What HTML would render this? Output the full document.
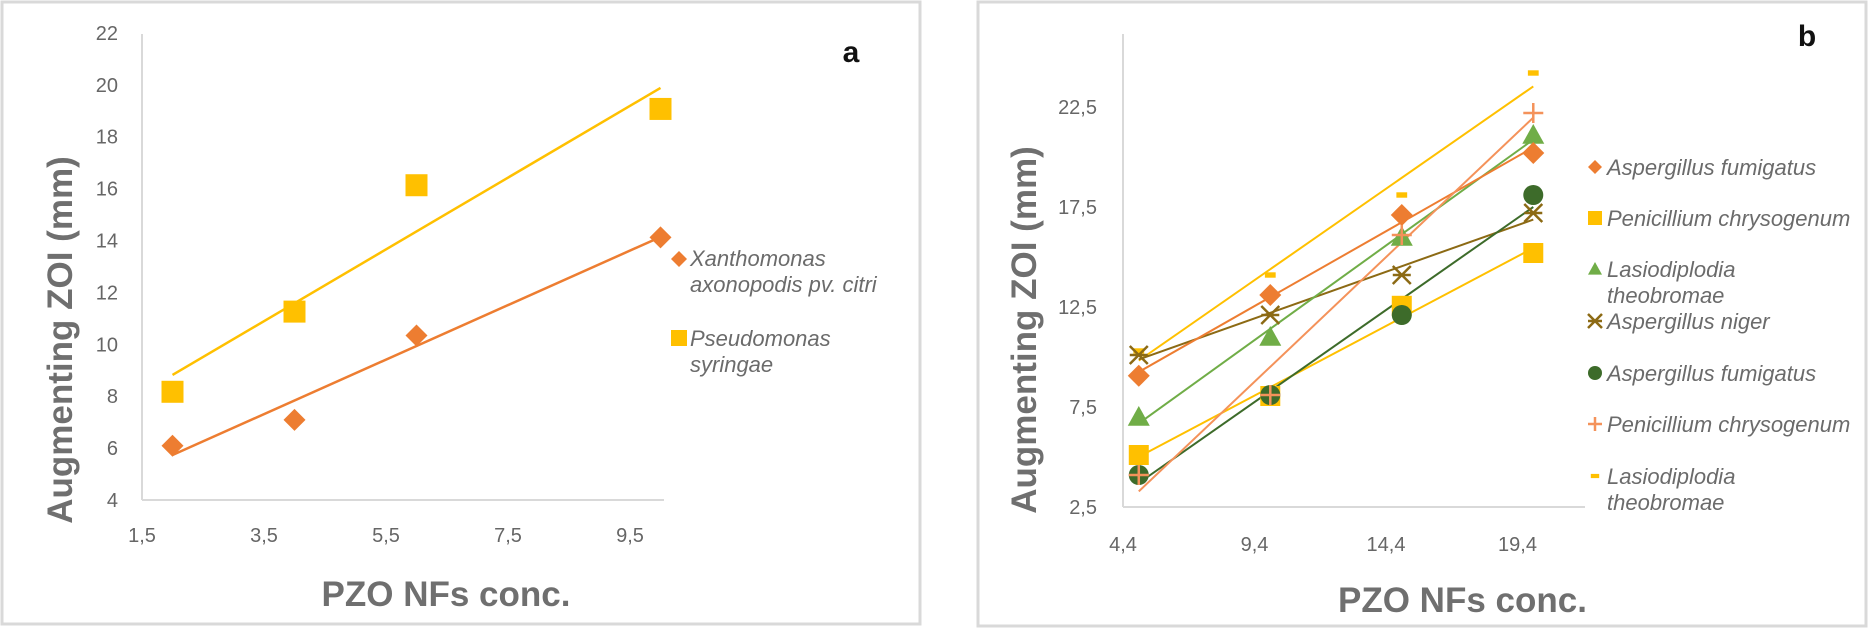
<!DOCTYPE html>
<html><head><meta charset="utf-8"><style>
html,body{margin:0;padding:0;background:#fff;}
svg{display:block;font-family:"Liberation Sans",sans-serif;}
.tick{fill:#666;font-size:20px;}
.leg{fill:#6b6b6b;font-size:22px;font-style:italic;}
.title{fill:#6f6f6f;font-size:35px;font-weight:bold;}
</style></head><body>
<svg id="svg" width="1870" height="629" viewBox="0 0 1870 629">
<rect x="2" y="2" width="918" height="622" fill="#fff" stroke="#d9d9d9" stroke-width="3"/>
<rect x="978" y="2" width="888" height="624" fill="#fff" stroke="#d9d9d9" stroke-width="3"/>
<text x="851" y="62" font-size="30" font-weight="bold" fill="#111" text-anchor="middle">a</text>
<text x="1807" y="46" font-size="30" font-weight="bold" fill="#111" text-anchor="middle">b</text>
<text class="title" transform="translate(72,340) rotate(-90)" text-anchor="middle">Augmenting ZOI (mm)</text>
<text class="title" x="446" y="606" text-anchor="middle">PZO NFs conc.</text>
<text class="title" transform="translate(1036,330) rotate(-90)" text-anchor="middle">Augmenting ZOI (mm)</text>
<text class="title" x="1338" y="612" text-anchor="start">PZO NFs conc.</text>
<g id="ga"></g><g id="gb"></g>
</svg>
<script>
// Panel a data
const aX = [2, 4, 6, 10];
const aXantho = [6.09, 7.09, 10.34, 14.12];
const aPseudo = [8.17, 11.26, 16.13, 19.07];
const aYTicks = [4, 6, 8, 10, 12, 14, 16, 18, 20, 22];
const aXTicks = [1.5, 3.5, 5.5, 7.5, 9.5];
// Panel b data
const bX = [5, 10, 15, 20];
const bAspFum = [9.06, 13.1, 17.1, 20.2];
const bPenChr = [5.1, 8.05, 12.56, 15.2];
const bLasTheo = [7.0, 11.0, 16.0, 21.1];
const bAspNig = [10.1, 12.1, 14.1, 17.2];
const bAspFum2 = [4.1, 8.1, 12.1, 18.1];
const bPenChr2 = [4.1, 8.1, 16.1, 22.2];
const bLasTheo2 = [10.3, 14.1, 18.1, 24.2];
const bYTicks = [2.5, 7.5, 12.5, 17.5, 22.5];
const bXTicks = [4.4, 9.4, 14.4, 19.4];

const NS = "http://www.w3.org/2000/svg";
function mk(parent, tag, attrs, txt){const e=document.createElementNS(NS,tag);for(const k in attrs)e.setAttribute(k,attrs[k]);if(txt!==undefined)e.textContent=txt;parent.appendChild(e);return e;}
function fmt(v){return String(v).replace('.',',');}
function fit(xs,ys){const n=xs.length;const mx=xs.reduce((a,b)=>a+b)/n,my=ys.reduce((a,b)=>a+b)/n;let sxy=0,sxx=0;for(let i=0;i<n;i++){sxy+=(xs[i]-mx)*(ys[i]-my);sxx+=(xs[i]-mx)**2;}const s=sxy/sxx;return x=>my+s*(x-mx);}
function marker(g,type,cx,cy,color,s){
  let e;
  if(type==='diamond') e=mk(g,'polygon',{points:`${cx},${cy-s} ${cx+s},${cy} ${cx},${cy+s} ${cx-s},${cy}`,fill:color});
  else if(type==='square') e=mk(g,'rect',{x:cx-s,y:cy-s,width:2*s,height:2*s,fill:color});
  else if(type==='triangle') e=mk(g,'polygon',{points:`${cx},${cy-s} ${cx+s},${cy+s*0.8} ${cx-s},${cy+s*0.8}`,fill:color});
  else if(type==='circle') e=mk(g,'circle',{cx:cx,cy:cy,r:s,fill:color});
  else if(type==='star') e=mk(g,'path',{d:`M${cx-s} ${cy-s}L${cx+s} ${cy+s}M${cx+s} ${cy-s}L${cx-s} ${cy+s}M${cx-s} ${cy}L${cx+s} ${cy}`,stroke:color,'stroke-width':2.5,fill:'none'});
  else if(type==='plus') e=mk(g,'path',{d:`M${cx-s} ${cy}L${cx+s} ${cy}M${cx} ${cy-s}L${cx} ${cy+s}`,stroke:color,'stroke-width':2.5,fill:'none'});
  else if(type==='dash') e=mk(g,'rect',{x:cx-s*0.6,y:cy-s*0.3,width:s*1.2,height:s*0.6,fill:color});
  return e;
}
// Panel a
(function(){
  const g=document.getElementById('ga');
  const X=v=>142+(v-1.5)*61, Y=v=>500-(v-4)*25.95;
  let e=mk(g,'line',{x1:142,y1:34,x2:142,y2:500,stroke:'#d9d9d9','stroke-width':2});
  
  
  e=mk(g,'line',{x1:142,y1:500,x2:664,y2:500,stroke:'#d9d9d9','stroke-width':2});
  
  
  aYTicks.forEach(v=>{const t=mk(g,'text',{class:'tick',x:118,y:Y(v)+7,'text-anchor':'end'},fmt(v));
    
    });
  aXTicks.forEach(v=>{const t=mk(g,'text',{class:'tick',x:X(v),y:542,'text-anchor':'middle'},fmt(v));
    
    });
  const series=[{ys:aXantho,c:'#ED7D31',m:'diamond',s:11,n:'xanthomonas'},{ys:aPseudo,c:'#FFC000',m:'square',s:11,n:'pseudomonas'}];
  series.forEach(sr=>{
    const f=fit(aX,sr.ys);
    const l=mk(g,'line',{x1:X(aX[0]),y1:Y(f(aX[0])),x2:X(aX[aX.length-1]),y2:Y(f(aX[aX.length-1])),stroke:sr.c,'stroke-width':2.5});
    
    
    sr.ys.forEach((v,i)=>{const p=marker(g,sr.m,X(aX[i]),Y(v),sr.c,sr.s);
      
      });
  });
  let lm=marker(g,'diamond',679,259,'#ED7D31',8);
  
  
  lm=marker(g,'square',679,338,'#FFC000',8);
  
  
  [['Xanthomonas',266],['axonopodis pv. citri',292],['Pseudomonas',346],['syringae',372]].forEach(([t,y])=>{
    const e=mk(g,'text',{class:'leg',x:690,y:y,'font-size':23},t);
    
    
  });
})();
// Panel b
(function(){
  const g=document.getElementById('gb');
  const X=v=>1123+(v-4.4)*26.3, Y=v=>507-(v-2.5)*20.0;
  let e=mk(g,'line',{x1:1123,y1:34,x2:1123,y2:507,stroke:'#d9d9d9','stroke-width':2});
  
  
  e=mk(g,'line',{x1:1123,y1:507,x2:1585,y2:507,stroke:'#d9d9d9','stroke-width':2});
  
  
  bYTicks.forEach(v=>{const t=mk(g,'text',{class:'tick',x:1097,y:Y(v)+7,'text-anchor':'end','font-size':21},fmt(v));
    
    });
  bXTicks.forEach(v=>{const t=mk(g,'text',{class:'tick',x:X(v),y:551,'text-anchor':'middle','font-size':21},fmt(v));
    
    });
  const series=[
    {ys:bLasTheo2,c:'#FFC000',lc:'#FFC000',m:'dash',s:9,n:'lasiodiplodia-2'},
    {ys:bPenChr,c:'#FFC000',lc:'#FFC000',m:'square',s:10,n:'penicillium'},
    {ys:bAspNig,c:'#8C6A14',lc:'#8C6A14',m:'star',s:9,n:'aspergillus-niger'},
    {ys:bLasTheo,c:'#70AD47',lc:'#70AD47',m:'triangle',s:11,n:'lasiodiplodia'},
    {ys:bAspFum,c:'#ED7D31',lc:'#ED7D31',m:'diamond',s:11,n:'aspergillus-fumigatus'},
    {ys:bAspFum2,c:'#3D6B2A',lc:'#3D6B2A',m:'circle',s:10,n:'aspergillus-fumigatus-2'},
    {ys:bPenChr2,c:'#F4925A',lc:'#F4925A',m:'plus',s:10,n:'penicillium-2'}
  ];
  series.forEach(sr=>{
    const f=fit(bX,sr.ys);
    const l=mk(g,'line',{x1:X(bX[0]),y1:Y(f(bX[0])),x2:X(bX[bX.length-1]),y2:Y(f(bX[bX.length-1])),stroke:sr.lc,'stroke-width':2});
    
    
  });
  series.forEach(sr=>{
    sr.ys.forEach((v,i)=>{const p=marker(g,sr.m,X(bX[i]),Y(v),sr.c,sr.s);
      
      });
  });
  const leg=[['diamond','#ED7D31',167,['Aspergillus fumigatus']],['square','#FFC000',218,['Penicillium chrysogenum']],
    ['triangle','#70AD47',269,['Lasiodiplodia','theobromae']],['star','#8C6A14',321,['Aspergillus niger']],
    ['circle','#3D6B2A',373,['Aspergillus fumigatus']],['plus','#F4925A',424,['Penicillium chrysogenum']],
    ['dash','#FFC000',476,['Lasiodiplodia','theobromae']]];
  leg.forEach(([m,c,y,lines])=>{
    const lm=marker(g,m,1595,y,c,7);
    
    
    lines.forEach((t,j)=>{const e=mk(g,'text',{class:'leg',x:1607,y:y+8+j*26,'font-size':22},t);
      
      });
  });
})();
</script>
</body></html>
